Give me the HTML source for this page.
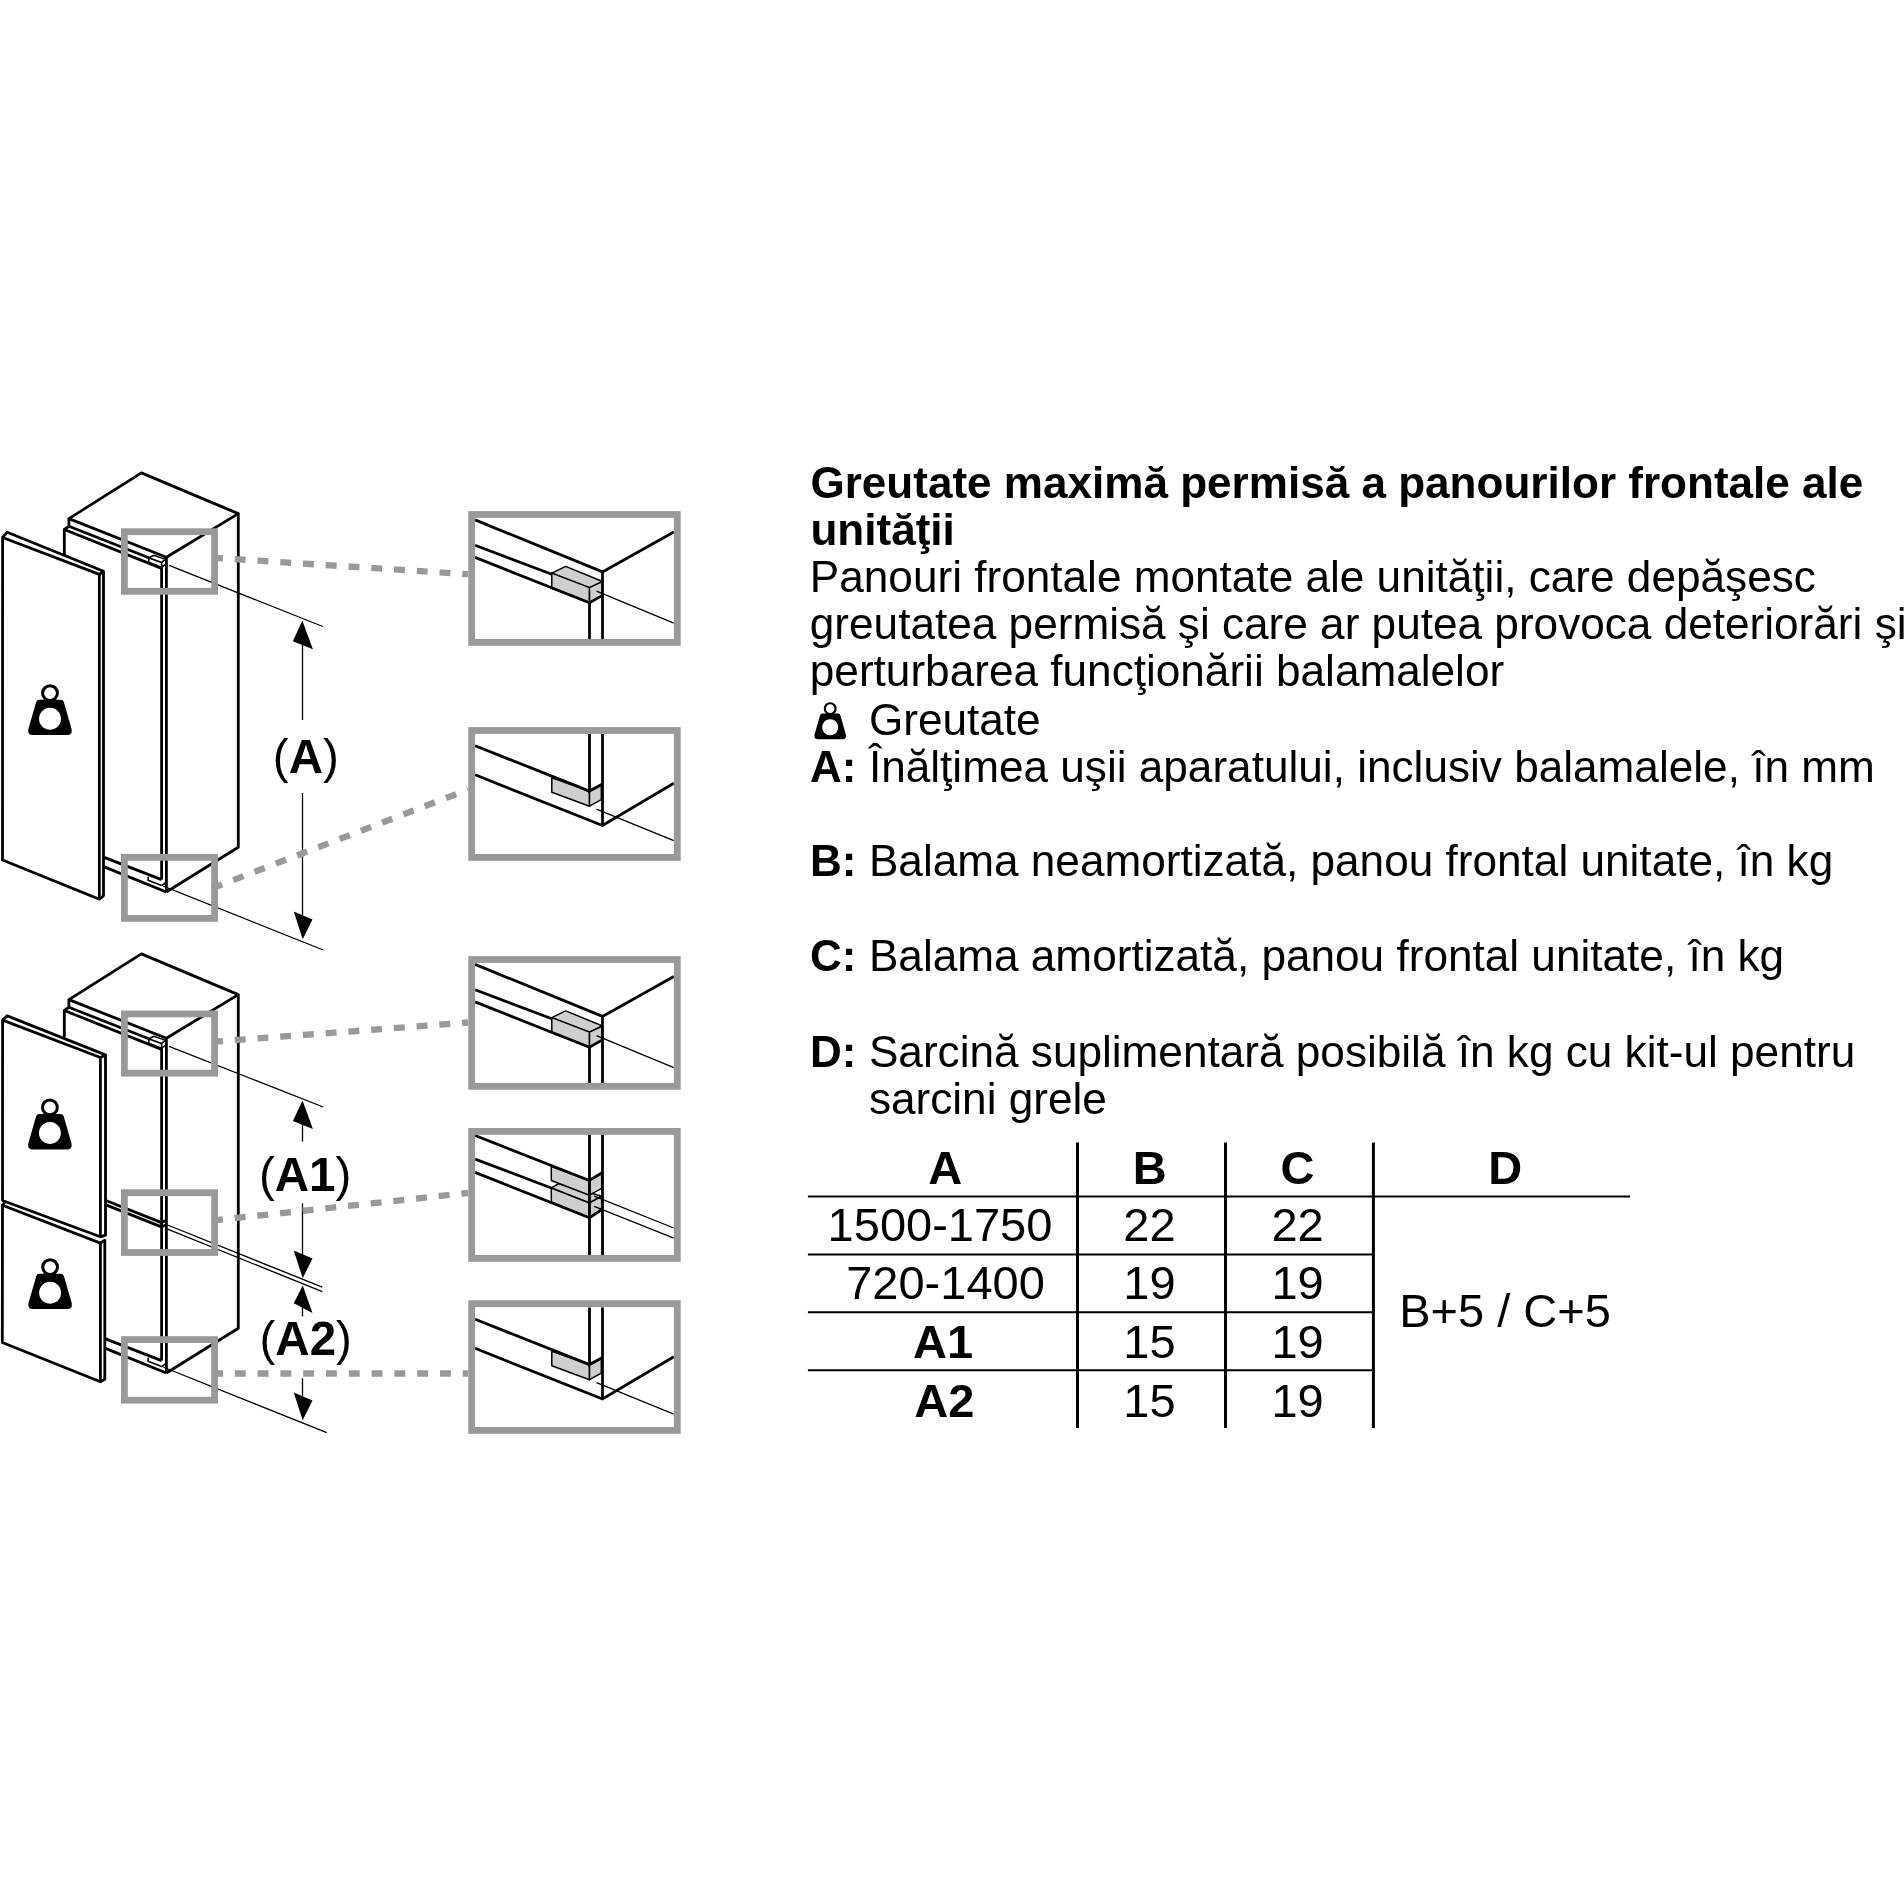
<!DOCTYPE html>
<html><head><meta charset="utf-8">
<style>
html,body{margin:0;padding:0;background:#fff;width:1904px;height:1904px;overflow:hidden}
svg{display:block;will-change:transform}
text{font-family:"Liberation Sans",sans-serif;fill:#000}
.b{font-weight:bold}
.t44{font-size:44px}
.t47{font-size:47px}
</style></head><body>
<svg width="1904" height="1904" viewBox="0 0 1904 1904">


<!-- ===== TEXT ===== -->
<g class="t44">
 <text x="810.4" y="497.5" class="b" font-size="44.07">Greutate maximă permisă a panourilor frontale ale</text>
 <text x="810.4" y="544.6" class="b" font-size="44.07">unităţii</text>
 <text x="809.8" y="591.9" font-size="44.15">Panouri frontale montate ale unităţii, care depăşesc</text>
 <text x="809.8" y="639.1" font-size="44.15">greutatea permisă şi care ar putea provoca deteriorări şi</text>
 <text x="809.8" y="686.2" font-size="44.15">perturbarea funcţionării balamalelor</text>
 <text x="868.9" y="734.6" font-size="44.15">Greutate</text>
 <text x="810" y="781.6" class="b">A:</text><text x="868.9" y="781.6" font-size="44.15">Înălţimea uşii aparatului, inclusiv balamalele, în mm</text>
 <text x="810" y="875.8" class="b">B:</text><text x="868.9" y="875.8" font-size="44.15">Balama neamortizată, panou frontal unitate, în kg</text>
 <text x="810" y="970.6" class="b">C:</text><text x="868.9" y="970.6" font-size="44.15">Balama amortizată, panou frontal unitate, în kg</text>
 <text x="810" y="1067" class="b">D:</text><text x="868.9" y="1067" font-size="44.15">Sarcină suplimentară posibilă în kg cu kit-ul pentru</text>
 <text x="868.9" y="1114" font-size="44.15">sarcini grele</text>
</g>
<use href="#wt" transform="translate(830.2,708.6) scale(0.727)"/>

<!-- ===== TABLE ===== -->
<g stroke="#000" fill="none">
 <path d="M1077.5,1142.5V1428M1225.5,1142.5V1428M1373.4,1142.5V1428" stroke-width="3"/>
 <path d="M807.9,1196.4H1630M807.9,1254.4H1373.4M807.9,1312.3H1373.4M807.9,1370.3H1373.4" stroke-width="2"/>
</g>
<g class="t47" text-anchor="middle">
 <text x="945.2" y="1183.5" class="b">A</text>
 <text x="1149.8" y="1183.5" class="b">B</text>
 <text x="1297.6" y="1183.5" class="b">C</text>
 <text x="1505.2" y="1183.5" class="b">D</text>
 <text x="940" y="1240.6">1500-1750</text>
 <text x="945.5" y="1299.3">720-1400</text>
 <text x="943" y="1357.8" class="b">A1</text>
 <text x="944.4" y="1416.7" class="b">A2</text>
 <text x="1149.5" y="1240.6">22</text>
 <text x="1149.5" y="1299.3">19</text>
 <text x="1149.5" y="1357.8">15</text>
 <text x="1149.5" y="1416.7">15</text>
 <text x="1297.6" y="1240.6">22</text>
 <text x="1297.6" y="1299.3">19</text>
 <text x="1297.6" y="1357.8">19</text>
 <text x="1297.6" y="1416.7">19</text>
 <text x="1505" y="1327.2">B+5 / C+5</text>
</g>

<!-- ===== DIAGRAM ===== -->
<defs>
 <g id="cab">
  <g fill="none" stroke="#000" stroke-width="2.8" stroke-linejoin="round">
   <path d="M68.9,518.6 L141.4,472.9 L238.3,513.6 L166.4,557.3 Z"/>
   <path d="M68.9,518.6 V526.3 L64.3,529.5 V556"/>
   <path d="M68.9,526.3 L148.8,557.8"/>
   <path d="M64.3,529.5 L161.6,568.4"/>
   <path d="M161.6,567.5 V879.6 M166.4,557.3 V892"/>
   <path d="M238.3,513.6 V847.3 L166.4,892"/>
   <path d="M104.2,857.4 L161.6,879.6"/>
   <path d="M104.2,866.9 L166.4,892"/>
  </g>
  <g fill="none" stroke="#000" stroke-width="1.6">
   <path d="M148.8,557.8 L154,555.3 L165.3,559.2 L161.6,562.5 Z M148.8,557.8 V562.3 L161.6,567.4 V562.5 M161.6,567.4 L165.3,564.4"/>
   <path d="M148.1,876.8 V880.3 L161.6,885.6 M161.6,885.6 L165.3,883"/>
  </g>
 </g>
 <g id="box1">
  <g fill="#cfcfcf" stroke="#000" stroke-width="1.5" stroke-linejoin="round">
   <path d="M551.8,573.1 L565.7,566.4 L602.5,581.5 L589.5,587.6 Z"/>
   <path d="M551.8,573.1 L589.5,587.6 L589.5,602.7 L551.8,588.2 Z"/>
   <path d="M589.5,587.6 L602.5,581.5 L602.5,595.4 L589.5,602.7 Z"/>
  </g>
  <g fill="none" stroke="#000" stroke-width="2.8">
   <path d="M475.1,519.9 L602.5,571.9 L673.8,532"/>
   <path d="M602.5,571.9 V639"/>
   <path d="M589.5,602.7 V639"/>
   <path d="M475.1,545.3 L551.8,574.3"/>
   <path d="M475.1,557.4 L589.5,602.7 L602.5,595.4"/>
  </g>
  <path d="M596.5,591.2 L673.8,623.2" stroke="#000" stroke-width="1.3"/>
 </g>
 <g id="box2">
  <g fill="#cfcfcf" stroke="#000" stroke-width="1.5" stroke-linejoin="round">
   <path d="M551.8,777.8 L589.5,791.1 L589.5,806.2 L551.8,792.3 Z"/>
   <path d="M589.5,791.1 L601.3,784.5 L601.3,799.6 L589.5,806.2 Z"/>
  </g>
  <g fill="none" stroke="#000" stroke-width="2.8">
   <path d="M589.5,733.9 V791.1 L602.5,784"/>
   <path d="M602.5,733.9 V825.5"/>
   <path d="M475.1,745.8 L589.5,791.1"/>
   <path d="M475.1,774.8 L602.5,825.5 L673.8,783.3"/>
  </g>
  <path d="M596.5,809.2 L673.8,840.6" stroke="#000" stroke-width="1.3"/>
 </g>
 <g id="wt">
  <circle cx="0" cy="0" r="7.4" fill="none" stroke="#000" stroke-width="3"/>
  <path d="M-10.8,6.6 L10.8,6.6 Q13,6.6 13.8,8.8 L21.6,36 Q22.6,42 17.5,42 L-17.5,42 Q-22.6,42 -21.6,36 L-13.8,8.8 Q-13,6.6 -10.8,6.6 Z M0,14.6 A11,11 0 1,0 0.01,14.6 Z" fill="#000" fill-rule="evenodd"/>
 </g>
</defs>

<!-- upper appliance -->
<use href="#cab"/>
<g fill="none" stroke="#000" stroke-width="2.8" stroke-linejoin="round">
 <path d="M2.6,537.5 L99.35,574.4 V899.2 L2.5,860 Z"/>
 <path d="M2.6,537.5 L7.2,532.2 L103.5,571.2 L99.35,574.4 M103.5,571.2 V895.7 L99.35,899.2"/>
</g>
<use href="#wt" transform="translate(50,693.1)"/>

<!-- lower appliance -->
<use href="#cab" transform="translate(0,481)"/>
<g fill="none" stroke="#000" stroke-width="2.8" stroke-linejoin="round">
 <path d="M106.5,1200.8 L161.5,1222.6 L166.3,1220.3 M106.5,1205.1 L161.5,1226.9 L166.3,1224.7"/>
 <path d="M2.6,1020.1 L100.4,1057.5 V1236.8 L2.5,1200.5 Z"/>
 <path d="M2.6,1020.1 L7.2,1015.9 L105.5,1054.9 L100.4,1057.5 M105.5,1054.9 V1235.2 L100.4,1236.8"/>
 <path d="M2.5,1205.2 L100.4,1243.1 V1381.8 L2.3,1342.5 Z"/>
 <path d="M2.5,1205.2 L4.6,1202.6 M100.4,1243.1 L104.8,1240.2 V1379.2 L100.4,1381.8"/>
</g>
<use href="#wt" transform="translate(49.9,1107.4)"/>
<use href="#wt" transform="translate(50.1,1267.1)"/>

<!-- leaders & dimension arrows -->
<g stroke="#000" stroke-width="1.3" fill="none">
 <path d="M169.1,565.4 L322.8,626.5"/>
 <path d="M163,886 L323.2,950"/>
 <path d="M169.1,1046.4 L323.2,1107"/>
 <path d="M167.6,1225 L322.3,1287.1 M167.6,1229.2 L322.3,1291.6"/>
 <path d="M163,1367 L326.8,1432.7"/>
 <path d="M302.5,640 V719.9 M302.5,792.9 V915 M302.5,1120 V1141.5 M302.5,1203.2 V1255 M302.5,1305 V1316.6 M302.5,1378.2 V1396"/>
</g>
<g fill="#000">
 <path d="M302.3,620.6 L292.9,641.2 L312.9,649.3 Z"/>
 <path d="M302.7,939.3 L293.75,911.6 L312.5,919.6 Z"/>
 <path d="M302.5,1100.5 L292.9,1120.9 L312.9,1129 Z"/>
 <path d="M302.7,1278.2 L293.75,1250.5 L312.5,1258.6 Z"/>
 <path d="M302.7,1285.4 L293.75,1303.2 L312.5,1313 Z"/>
 <path d="M302.7,1420.2 L293.75,1392.5 L312.5,1400.5 Z"/>
</g>
<g font-size="47.5">
 <text x="272.8" y="773">(<tspan class="b">A</tspan>)</text>
 <text x="258.9" y="1190.5">(<tspan class="b">A1</tspan>)</text>
 <text x="259.5" y="1355">(<tspan class="b">A2</tspan>)</text>
</g>

<!-- detail boxes content -->
<use href="#box1"/>
<use href="#box2"/>
<use href="#box1" transform="translate(0,444.5)"/>
<use href="#box2" transform="translate(0,573.5)"/>
<g id="box4">
 <g fill="#cfcfcf" stroke="#000" stroke-width="1.5" stroke-linejoin="round">
  <path d="M551.3,1188 L558.7,1183.6 L601.7,1196.2 L589.4,1203 Z"/>
  <path d="M551.3,1188 L589.4,1203 L589.4,1217.7 L551.3,1202 Z"/>
  <path d="M589.4,1203 L601.7,1196.2 L601.7,1209.8 L589.4,1217.7 Z"/>
  <path d="M551.3,1166.5 L589.4,1180.5 L589.4,1195.2 L551.3,1180.5 Z"/>
  <path d="M589.4,1180.5 L601.7,1173 L601.7,1188.3 L589.4,1195.2 Z"/>
 </g>
 <g fill="none" stroke="#000" stroke-width="2.8">
  <path d="M589.5,1134.8 V1255 M602.5,1134.8 V1255"/>
  <path d="M475.1,1135.5 L589.4,1180.5 L601.7,1173"/>
  <path d="M475.1,1159.1 L551.3,1188"/>
  <path d="M475.1,1172.4 L589.4,1217.7 L601.7,1209.8"/>
 </g>
 <path d="M594.2,1196.2 L673.8,1228 M594.2,1206.4 L673.8,1238.2" stroke="#000" stroke-width="1.3" fill="none"/>
</g>

<!-- gray highlight rects & dashed connectors -->
<g fill="none" stroke="#999" stroke-width="6.8">
 <rect x="124.4" y="531.7" width="90.2" height="59.6"/>
 <rect x="124.4" y="857.3" width="90.2" height="61.1"/>
 <rect x="124.4" y="1013.9" width="90.2" height="59.3"/>
 <rect x="124.4" y="1192.7" width="90.2" height="59.8"/>
 <rect x="124.4" y="1339.6" width="90.2" height="60.6"/>
 <rect x="471.7" y="514.5" width="205.6" height="127.9"/>
 <rect x="471.7" y="730.5" width="205.6" height="126.9"/>
 <rect x="471.7" y="959.5" width="205.6" height="126.8"/>
 <rect x="471.7" y="1131.4" width="205.6" height="127"/>
 <rect x="471.7" y="1303.7" width="205.6" height="126.7"/>
</g>
<g fill="none" stroke="#999" stroke-width="6.3" stroke-dasharray="10.9 11.9">
 <path d="M212,557.7 L468,574.2"/>
 <path d="M212,888.3 L468,789.5"/>
 <path d="M212,1041.9 L468,1022.5"/>
 <path d="M212,1220.6 L468,1193"/>
 <path d="M212,1373.5 L468,1373.5"/>
</g>

</svg>
</body></html>
